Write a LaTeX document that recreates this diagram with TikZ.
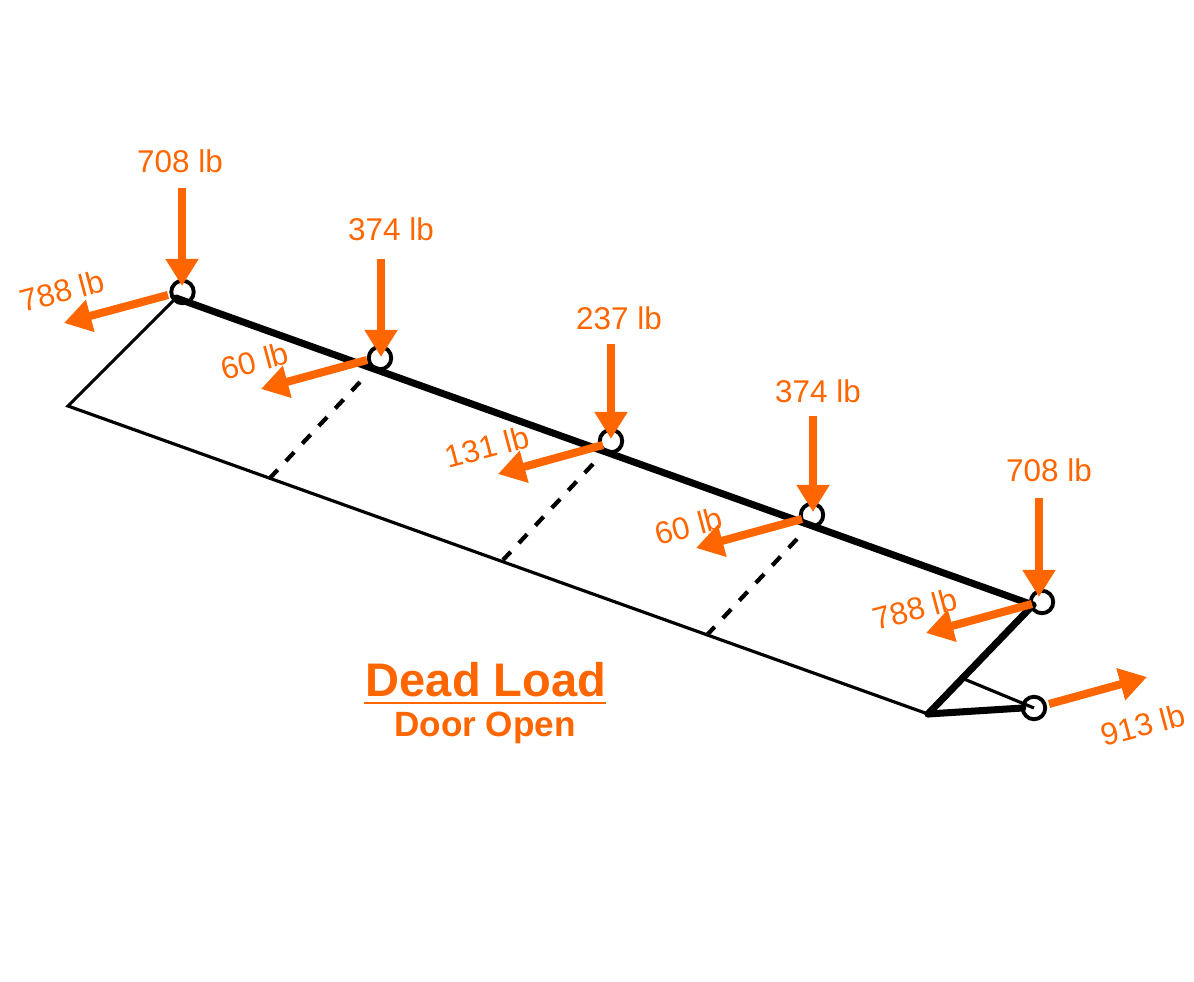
\documentclass[tikz,border=0pt]{standalone}
\usepackage{fontspec}
\setmainfont{Liberation Sans}
\usetikzlibrary{arrows.meta}
\definecolor{loadorange}{HTML}{FF6600}

\tikzset{
  thinline/.style={line width=1.8pt,black},
  thickline/.style={line width=4pt,black},
  dashline/.style={line width=2.4pt,black,dash pattern=on 6.9pt off 6.8pt},
  joint/.style={circle,draw=black,line width=2.2pt,minimum size=0.45cm,inner sep=0pt,outer sep=0pt},
  load/.style={line width=4.6pt,loadorange,-{Triangle[width=18pt,length=15.5pt]}},
  loadtext/.style={text=loadorange,font=\fontsize{17.9pt}{20pt}\selectfont},
  sidetext/.style={loadtext,rotate=15}
}

\begin{document}
\begin{tikzpicture}[x=0.02cm,y=-0.02cm]
\useasboundingbox (0,0) rectangle (1194,982);

% Corners of the door
\coordinate (topleft) at (176,298);
\coordinate (topright) at (1033,605);
\coordinate (botleft) at (68,406);
\coordinate (botright) at (928,714);
\coordinate (brace) at (964,679);

% Ends of the dashed lines
\coordinate (d1a) at (360,382);
\coordinate (d1b) at (270,478);
\coordinate (d2a) at (593,464);
\coordinate (d2b) at (503,560);
\coordinate (d3a) at (797,539);
\coordinate (d3b) at (707,635);

% Draw the joints
\node[joint] (j1) at (182.5,292) {};
\node[joint] (j2) at (380,358) {};
\node[joint] (j3) at (611,441) {};
\node[joint] (j4) at (812,515) {};
\node[joint] (j5) at (1042,602) {};
\node[joint] (j6) at (1034,708) {};

% Draw the door
\draw[thinline,line join=miter] (topleft) -- (botleft) -- (botright);
\draw[thickline,line cap=round] (topleft) -- (topright);
\draw[thickline,line cap=round] (topright) -- (botright);
\draw[thickline,line cap=round] (botright) -- (j6.west);
\draw[thinline] (brace) -- (j6.center);

% Draw the dashed lines
\draw[dashline] (d1a) -- (d1b);
\draw[dashline] (d2a) -- (d2b);
\draw[dashline] (d3a) -- (d3b);

% Ends of the vertical loads
\coordinate (v1a) at (182,188);
\coordinate (v1b) at (182,286);
\coordinate (v2a) at (381,259);
\coordinate (v2b) at (381,357);
\coordinate (v3a) at (611,344);
\coordinate (v3b) at (611,439);
\coordinate (v4a) at (813,416);
\coordinate (v4b) at (813,512);
\coordinate (v5a) at (1039,498);
\coordinate (v5b) at (1039,597);

% Draw the vertical loads
\draw[load] (v1a) -- (v1b);
\draw[load] (v2a) -- (v2b);
\draw[load] (v3a) -- (v3b);
\draw[load] (v4a) -- (v4b);
\draw[load] (v5a) -- (v5b);

% Ends of the side loads
\coordinate (s1a) at (168,295);
\coordinate (s1b) at (64,323);
\coordinate (s2a) at (367,360);
\coordinate (s2b) at (261,389);
\coordinate (s3a) at (603,445);
\coordinate (s3b) at (498,474);
\coordinate (s4a) at (802,519);
\coordinate (s4b) at (696,548);
\coordinate (s5a) at (1032,604);
\coordinate (s5b) at (926,633);
\coordinate (s6a) at (1049,704);
\coordinate (s6b) at (1147,677);

% Draw the side loads
\draw[load] (s1a) -- (s1b);
\draw[load] (s2a) -- (s2b);
\draw[load] (s3a) -- (s3b);
\draw[load] (s4a) -- (s4b);
\draw[load] (s5a) -- (s5b);
\draw[load] (s6a) -- (s6b);

% Add labels
\node[loadtext] (t1) at (180,161) {708 lb};
\node[loadtext] (t2) at (391,229) {374 lb};
\node[loadtext] (t3) at (619,318) {237 lb};
\node[loadtext] (t4) at (818,391) {374 lb};
\node[loadtext] (t5) at (1049,470) {708 lb};
\node[sidetext] (u1) at (62,291) {788 lb};
\node[sidetext] (u2) at (255,361) {60 lb};
\node[sidetext] (u3) at (487,447) {131 lb};
\node[sidetext] (u4) at (689,526) {60 lb};
\node[sidetext] (u5) at (915,609) {788 lb};
\node[sidetext] (u6) at (1143,725) {913 lb};

% Add the title
\node[text=loadorange,font=\fontsize{26.8pt}{30pt}\selectfont\bfseries,anchor=base] (title) at (486,697) {Dead Load};
\node[text=loadorange,font=\fontsize{20pt}{24pt}\selectfont\bfseries,anchor=base] (subtitle) at (485,736.5) {Door Open};
\coordinate (rulea) at (364,703);
\coordinate (ruleb) at (606,703);
\draw[loadorange,line width=1.2pt] (rulea) -- (ruleb);

\end{tikzpicture}
\end{document}
